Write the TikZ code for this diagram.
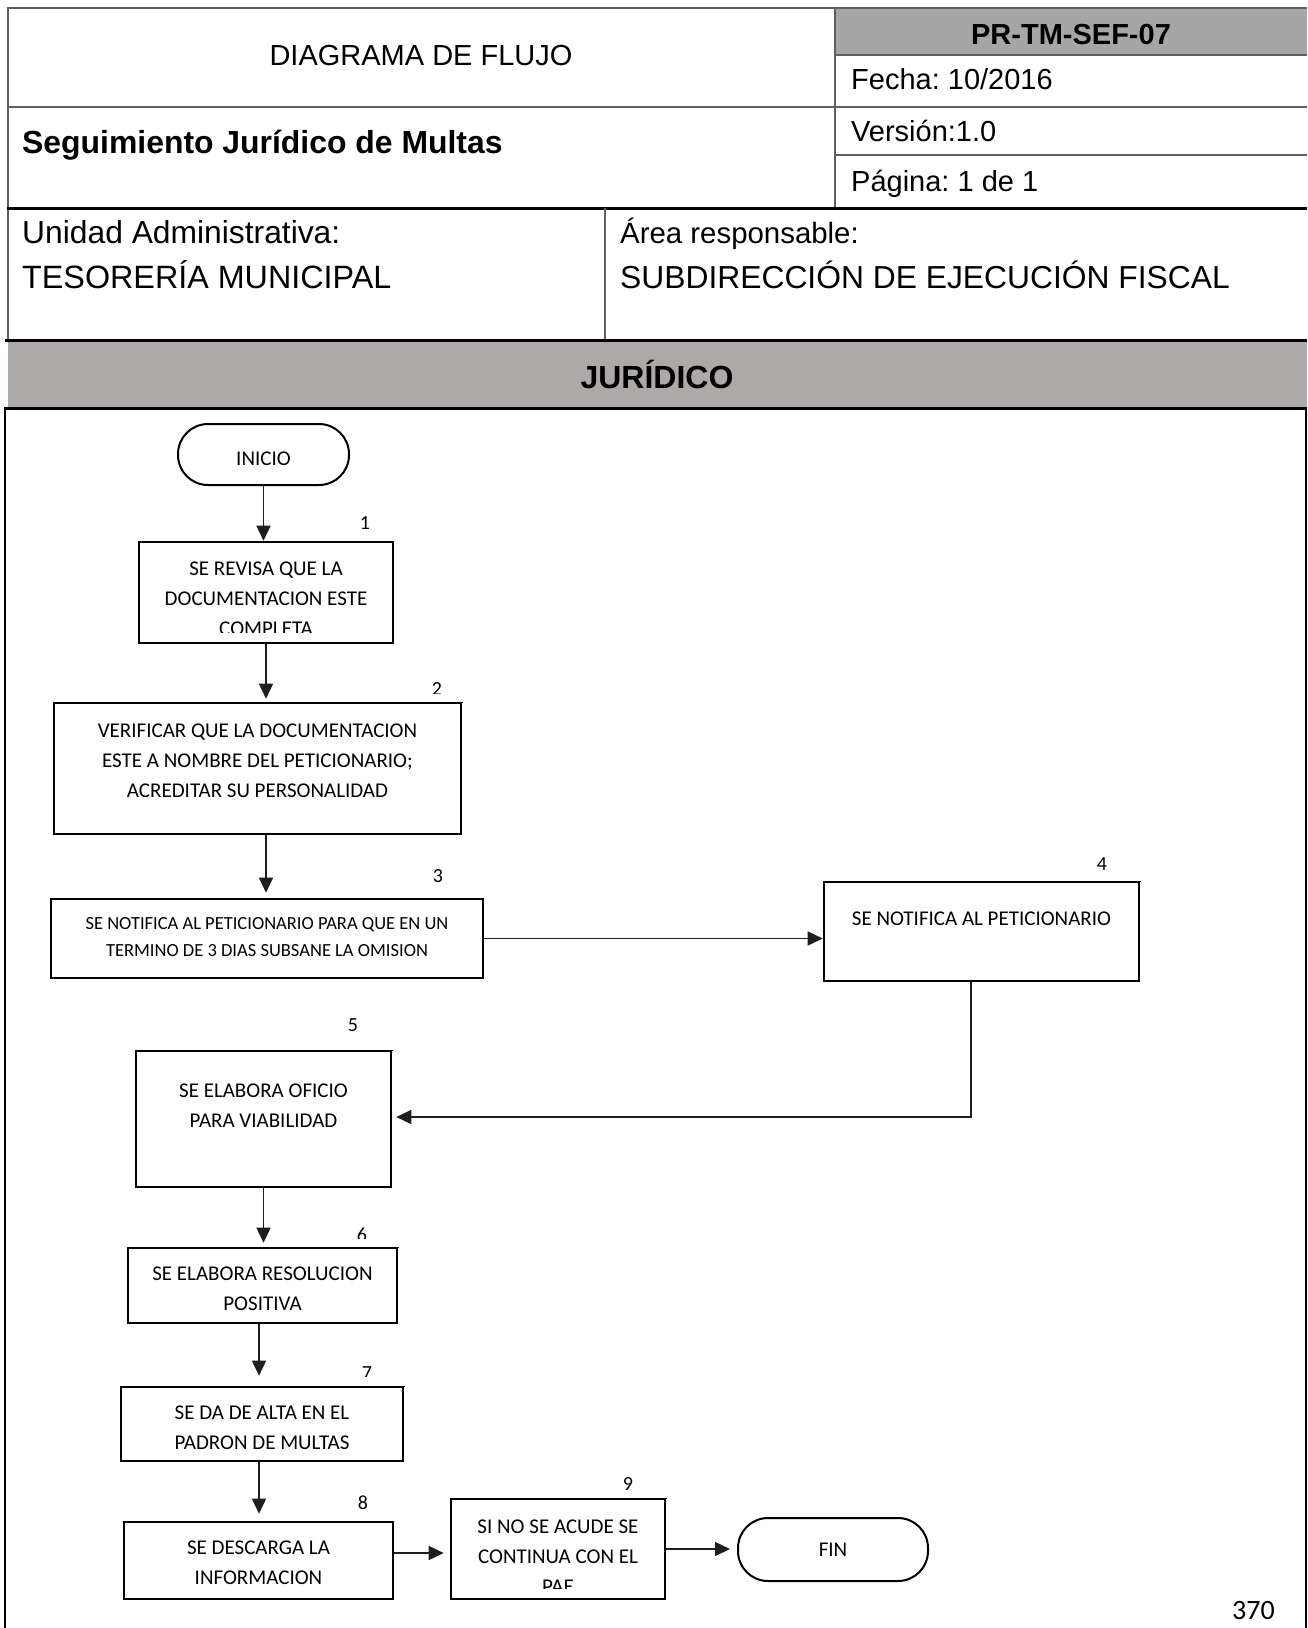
\documentclass[tikz,border=0pt]{standalone}
\usepackage{fontspec}
\setmainfont{Liberation Sans}
\newfontfamily\calib{Carlito}
\usetikzlibrary{arrows.meta,calc}
\definecolor{hdrline}{RGB}{95,95,95}
\definecolor{prgray}{RGB}{166,166,166}
\definecolor{bandgray}{RGB}{173,169,168}
\definecolor{conn}{RGB}{30,30,30}
\frenchspacing
\begin{document}
\begin{tikzpicture}[x=1pt,y=-1pt,
  hline/.style={draw=hdrline,line width=1.8pt},
  kline/.style={draw=black,line width=3pt},
  pbox/.style={draw,line width=2.6pt,rectangle,inner sep=0pt},
  term/.style={draw,line width=2pt,rectangle,rounded corners=30pt,inner sep=0pt,
     font=\calib\fontsize{21}{25}\selectfont},
  btxt/.style={align=center,inner sep=0pt,anchor=north,font=\calib\fontsize{21}{30}\selectfont},
  btxts/.style={align=center,inner sep=0pt,anchor=north,font=\calib\fontsize{18.5}{27}\selectfont},
  numl/.style={inner sep=0pt,anchor=center,font=\calib\fontsize{20}{24}\selectfont},
  htxt/.style={inner sep=0pt,font=\fontsize{29}{34}\selectfont},
  htxtl/.style={inner sep=0pt,font=\fontsize{31.8}{38}\selectfont},
  arr/.style={draw=conn,line width=1.5pt,-{Triangle[length=15pt,width=14pt]}},
  thin/.style={draw=black,line width=1pt}]
\useasboundingbox (0,0) rectangle (1307,1628);
\clip (0,0) rectangle (1307,1628);
\fill[white] (0,0) rectangle (1307,1628);

% ---------- header table ----------
\fill[prgray] (835,8) rectangle (1307,55);
\fill[bandgray] (8,340) rectangle (1307,408);
\draw[hline] (7,8) -- (1307,8);
\draw[hline] (8,8) -- (8,340);
\draw[hline] (835,8) -- (835,208);
\draw[hline] (835,55) -- (1307,55);
\draw[hline] (8,107) -- (1307,107);
\draw[hline] (835,155) -- (1307,155);
\draw[kline] (7,208.5) -- (1307,208.5);
\draw[hline] (605,208) -- (605,340);
\draw[kline] (5,340) -- (1307,340);
\draw[kline] (4,408.5) -- (1307,408.5);
\draw[line width=2pt] (5,408) -- (5,1630);
\draw[line width=2pt] (1306,408) -- (1306,1630);

\node[htxt,anchor=base] (tdiag) at (421,65) {DIAGRAMA DE FLUJO};
\node[htxt,anchor=base,font=\fontsize{29}{34}\selectfont\bfseries] (tcode) at (1071,44) {PR-TM-SEF-07};
\node[htxt,anchor=base west] (tfecha) at (851,89) {Fecha: 10/2016};
\node[htxt,anchor=base west] (tver) at (851,141) {Versión:1.0};
\node[htxt,anchor=base west] (tpag) at (851,191) {Página: 1 de 1};
\node[inner sep=0pt,anchor=base west,font=\fontsize{31.9}{38}\selectfont\bfseries] (ttitle) at (22,153) {Seguimiento Jurídico de Multas};
\node[htxtl,anchor=base west] (tunid) at (22,243) {Unidad Administrativa:};
\node[htxtl,anchor=base west,font=\fontsize{32.3}{38}\selectfont] (ttes) at (22,288) {TESORERÍA MUNICIPAL};
\node[htxtl,anchor=base west,font=\fontsize{29.4}{36}\selectfont] (tarea) at (620,243) {Área responsable:};
\node[htxtl,anchor=base west] (tsub) at (620,288) {SUBDIRECCIÓN DE EJECUCIÓN FISCAL};
\node[inner sep=0pt,anchor=base,font=\fontsize{32}{38}\selectfont\bfseries] (tjur) at (657,388) {JURÍDICO};

% ---------- flow nodes ----------
\node[term,minimum width=171pt,minimum height=61pt] (ini) at (263.5,454.5) {};
\node[inner sep=0pt,font=\calib\fontsize{21}{25}\selectfont] (tini) at ($(ini.center)+(0,4.5)$) {INICIO};

\node[pbox,minimum width=254pt,minimum height=101pt] (b1) at (266,592.5) {};
\node[pbox,minimum width=407pt,minimum height=131pt] (b2) at (257.5,768.5) {};
\node[pbox,minimum width=432pt,minimum height=79pt]  (b3) at (267,938.5) {};
\node[pbox,minimum width=315pt,minimum height=99pt]  (b4) at (981.5,931.5) {};
\node[pbox,minimum width=255pt,minimum height=136pt] (b5) at (263.5,1119) {};
\node[pbox,minimum width=269pt,minimum height=75pt]  (b6) at (262.5,1285.5) {};
\node[pbox,minimum width=282pt,minimum height=74pt]  (b7) at (262,1424) {};
\node[pbox,minimum width=269pt,minimum height=77pt]  (b8) at (258.5,1560.5) {};
\node[pbox,minimum width=214pt,minimum height=100pt] (b9) at (558,1549) {};
\node[term,minimum width=190pt,minimum height=63pt] (fin) at (833,1549.5) {FIN};

% thin segments on box tops (label frames)
\draw[white,line width=3.2pt] ($(b2.north east)+(-48,0)$) -- (b2.north east);
\draw[thin] ($(b2.north east)+(-48,0.8)$) -- ($(b2.north east)+(1,0.8)$);
\draw[white,line width=3.2pt] ($(b4.north east)+(-71,0)$) -- (b4.north east);
\draw[thin] ($(b4.north east)+(-71,0.8)$) -- ($(b4.north east)+(1,0.8)$);
\draw[white,line width=3.2pt] ($(b5.north east)+(-65,0)$) -- (b5.north east);
\draw[thin] ($(b5.north east)+(-65,0.8)$) -- ($(b5.north east)+(1,0.8)$);
\draw[white,line width=3.2pt] ($(b6.north east)+(-69,0)$) -- (b6.north east);
\draw[thin] ($(b6.north east)+(-69,0.8)$) -- ($(b6.north east)+(1,0.8)$);
\draw[white,line width=3.2pt] ($(b7.north east)+(-73,0)$) -- (b7.north east);
\draw[thin] ($(b7.north east)+(-73,0.8)$) -- ($(b7.north east)+(1,0.8)$);
\draw[white,line width=3.2pt] ($(b9.north east)+(-68,0)$) -- (b9.north east);
\draw[thin] ($(b9.north east)+(-68,0.8)$) -- ($(b9.north east)+(1,0.8)$);

% box texts
\begin{scope}
  \clip (139,542) rectangle (393,632);
  \node[btxt] (x1) at (266,561.4) {SE REVISA QUE LA\\DOCUMENTACION ESTE\\COMPLETA};
\end{scope}
\node[btxt] (x2) at (257.5,723.4) {VERIFICAR QUE LA DOCUMENTACION\\ESTE A NOMBRE DEL PETICIONARIO;\\ACREDITAR SU PERSONALIDAD};
\node[btxts] (x3) at (267,917.2) {SE NOTIFICA AL PETICIONARIO PARA QUE EN UN\\TERMINO DE 3 DIAS SUBSANE LA OMISION};
\node[btxt] (x4) at (981.5,911.4) {SE NOTIFICA AL PETICIONARIO};
\node[btxt] (x5) at (263.5,1083.4) {SE ELABORA OFICIO\\PARA VIABILIDAD};
\node[btxt] (x6) at (262.5,1266.4) {SE ELABORA RESOLUCION\\POSITIVA};
\node[btxt] (x7) at (262,1405.4) {SE DA DE ALTA EN EL\\PADRON DE MULTAS};
\node[btxt] (x8) at (258.5,1540.4) {SE DESCARGA LA\\INFORMACION};
\begin{scope}
  \clip (451,1499) rectangle (665,1588);
  \node[btxt] (x9) at (558,1519.4) {SI NO SE ACUDE SE\\CONTINUA CON EL\\PAE};
\end{scope}

% step numbers
\node[numl] (n1) at (365,523) {1};
\begin{scope}\clip (400,660) rectangle (470,693); \node[numl] (n2) at (437,689.5) {2};\end{scope}
\node[numl] (n3) at (438,876) {3};
\node[numl] (n4) at (1102,864) {4};
\node[numl] (n5) at (353,1025) {5};
\begin{scope}\clip (330,1200) rectangle (400,1238); \node[numl] (n6) at (362,1234.5) {6};\end{scope}
\begin{scope}\clip (330,1340) rectangle (400,1376); \node[numl] (n7) at (367,1373.5) {7};\end{scope}
\node[numl] (n8) at (363,1503) {8};
\node[numl] (n9) at (628,1484) {9};

% page number
\node[inner sep=0pt,anchor=base east,font=\calib\fontsize{28}{34}\selectfont] (pg) at (1275,1619) {370};

% ---------- connectors ----------
\draw[arr] (ini.south) -- (ini.south |- b1.north);
\draw[arr,shorten >=3pt] (b1.south) -- (b1.south |- b2.north);
\draw[arr,shorten >=5pt] (b2.south -| b1.south) -- (b1.south |- b3.north);
\draw[arr] (b3.east) -- (b3.east -| b4.west);
\coordinate (c4) at (971,1117);
\draw[arr,line width=1.3pt,shorten >=4pt] (b4.south -| c4) -- (c4) -- (c4 -| b5.east);
\draw[arr,shorten >=4pt] (b5.south) -- (b5.south |- b6.north);
\draw[arr,shorten >=10pt] ([xshift=-3.5pt]b6.south) -- ([xshift=-3.5pt]b6.south |- b7.north);
\draw[arr,shorten >=7pt] ([xshift=-3pt]b7.south) -- ([xshift=-3pt]b7.south |- b8.north);
\draw[arr,shorten >=6pt] ([yshift=7.5pt]b8.east) -- ([yshift=7.5pt]b8.east -| b9.west);
\draw[arr,shorten >=7pt] (b9.east) -- (b9.east -| fin.west);
\end{tikzpicture}
\end{document}
